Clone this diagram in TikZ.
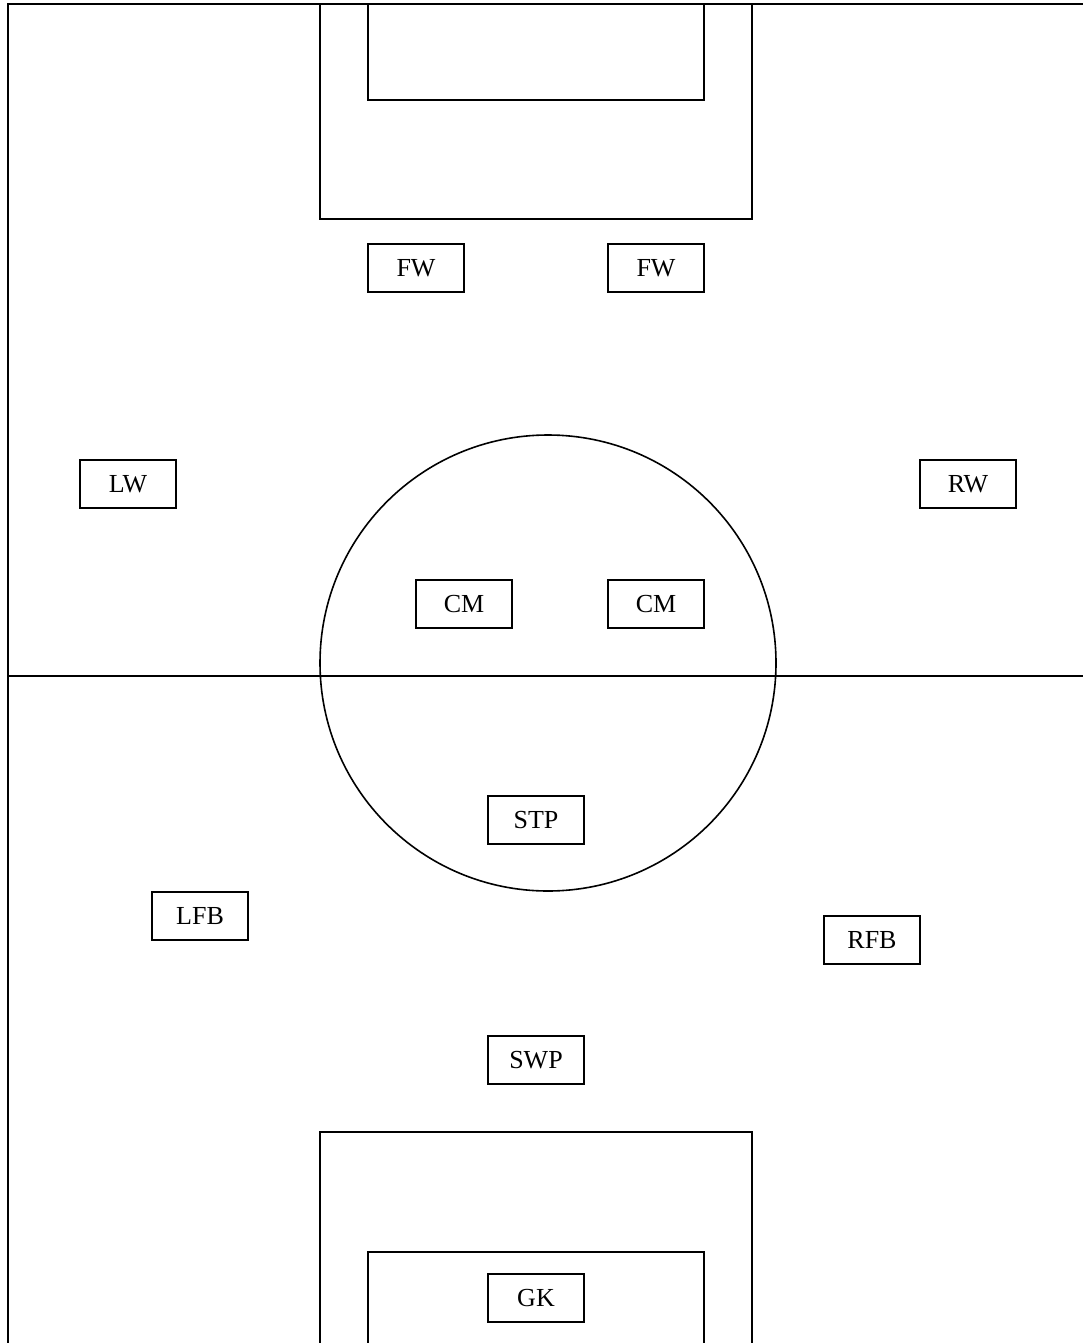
\documentclass[tikz,border=0pt]{standalone}
\usepackage{fontspec}
\setmainfont{Liberation Serif}
\begin{document}
\begin{tikzpicture}[x=1pt,y=-1pt,
  fieldline/.style={line width=2.2pt,black},
  player/.style={draw,line width=2pt,rectangle,minimum width=96pt,minimum height=48pt,inner sep=0pt,font=\fontsize{26}{30}\selectfont}]
\useasboundingbox (0,0) rectangle (1083,1343);
\fill[white] (0,0) rectangle (1083,1343);
\clip (0,0) rectangle (1083,1343);
% outer lines
\draw[fieldline] (8,1360) -- (8,4) -- (1100,4);
% halfway line
\draw[fieldline] (8,676) -- (1100,676);
% centre circle
\draw[line width=1.6pt] (548,663) circle[radius=228];
% top penalty area and goal area
\draw[fieldline] (320,4) -- (320,219) -- (752,219) -- (752,4);
\draw[fieldline] (368,4) -- (368,100) -- (704,100) -- (704,4);
% bottom penalty area and goal area
\draw[fieldline] (320,1360) -- (320,1132) -- (752,1132) -- (752,1360);
\draw[fieldline] (368,1360) -- (368,1252) -- (704,1252) -- (704,1360);
% players
\node[player] (fw1) at (416,268) {FW};
\node[player] (fw2) at (656,268) {FW};
\node[player] (lw) at (128,484) {LW};
\node[player] (rw) at (968,484) {RW};
\node[player] (cm1) at (464,604) {CM};
\node[player] (cm2) at (656,604) {CM};
\node[player] (stp) at (536,820) {STP};
\node[player] (lfb) at (200,916) {LFB};
\node[player] (rfb) at (872,940) {RFB};
\node[player] (swp) at (536,1060) {SWP};
\node[player] (gk) at (536,1298) {GK};
\end{tikzpicture}
\end{document}
